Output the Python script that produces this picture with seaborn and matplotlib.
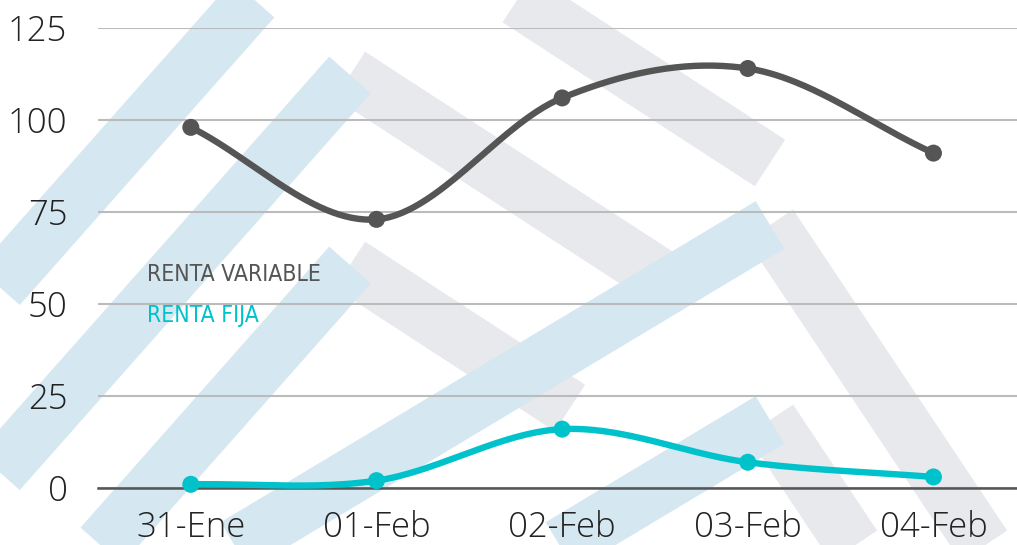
import numpy as np
import pandas as pd
import seaborn as sns
import matplotlib.pyplot as plt
from matplotlib import font_manager

# data
dates = ['31-Ene', '01-Feb', '02-Feb', '03-Feb', '04-Feb']
renta_variable = [98, 73, 106, 114, 91]
renta_fija = [1, 2, 16, 7, 3]

dark = '#555555'
cyan = '#00C2CB'

sns.set_theme(style='white')
plt.rcParams['font.family'] = ['Open Sans', 'DejaVu Sans']

fig = plt.figure(figsize=(10.17, 5.45), dpi=100)

# faint logo watermark in the background (decoration only)
bg = fig.add_axes([0, 0, 1, 1], zorder=0)
bg.set_xlim(0, 1017)
bg.set_ylim(545, 0)
bg.axis('off')
blue_wm = '#D5E7F1'
gray_wm = '#E7E9ED'


def chevron(ax0, ay0, left_dir, left_len, right_dir, right_len):
    lx = ax0 + left_dir[0] * left_len
    ly = ay0 + left_dir[1] * left_len
    rx = ax0 + right_dir[0] * right_len
    ry = ay0 + right_dir[1] * right_len
    bg.plot([ax0, rx], [ay0, ry], color=gray_wm, lw=40, solid_capstyle='butt', zorder=0)
    bg.plot([lx, ax0], [ly, ay0], color=blue_wm, lw=40, solid_capstyle='butt', zorder=1)


for ay, rlen in [(-110, 420), (75, 330), (265, 220)]:
    chevron(350, ay, (-1, 1.13), 500, (1, 0.65), rlen)
for ay, rlen in [(225, 260), (420, 150)]:
    chevron(770, ay, (-1, 0.6), 700, (1, 1.5), rlen)

ax = fig.add_axes([98 / 1017, 1 - 488 / 545, 1 - 98 / 1017, 460 / 545], zorder=1)
ax.patch.set_alpha(0)


def smooth(y, n=60):
    # cubic hermite (catmull-rom style) through the points, for drawing only
    y = np.asarray(y, float)
    x = np.arange(len(y), dtype=float)
    m = np.gradient(y)
    xs, ys = [], []
    for i in range(len(y) - 1):
        t = np.linspace(0, 1, n)
        h00 = 2 * t**3 - 3 * t**2 + 1
        h10 = t**3 - 2 * t**2 + t
        h01 = -2 * t**3 + 3 * t**2
        h11 = t**3 - t**2
        xs.append(x[i] + t)
        ys.append(h00 * y[i] + h10 * m[i] + h01 * y[i + 1] + h11 * m[i + 1])
    return np.concatenate(xs), np.concatenate(ys)


df = pd.DataFrame({'fecha': dates, 'RENTA VARIABLE': renta_variable, 'RENTA FIJA': renta_fija})

for col, c in [('RENTA VARIABLE', dark), ('RENTA FIJA', cyan)]:
    sx, sy = smooth(df[col])
    sns.lineplot(x=sx, y=sy, ax=ax, color=c, lw=4.6, sort=False, clip_on=False, zorder=3)
    sns.scatterplot(x=np.arange(len(dates)), y=df[col], ax=ax, color=c, s=150,
                    edgecolor='none', clip_on=False, zorder=4)

ax.set_xlim(-0.5, 4.45)
ax.set_ylim(0, 125)
ax.set_yticks([0, 25, 50, 75, 100, 125])
ax.set_xticks(range(len(dates)))
ax.set_xticklabels(dates)
ax.grid(axis='y', color='#BBBBBB', lw=1.5)
ax.grid(axis='x', visible=False)
ax.set_axisbelow(True)
for s in ['top', 'right', 'left']:
    ax.spines[s].set_visible(False)
ax.spines['bottom'].set_color('#555555')
ax.spines['bottom'].set_linewidth(1.8)
ax.tick_params(axis='y', length=0, pad=22, labelsize=25, labelcolor='#222222')
ax.tick_params(axis='x', length=0, pad=16, labelsize=25, labelcolor='#222222')
for lab in ax.get_xticklabels() + ax.get_yticklabels():
    lab.set_fontweight('light')
ax.set_xlabel('')
ax.set_ylabel('')

# condensed face for the legend if one is installed
narrow = None
for f in font_manager.fontManager.ttflist:
    if 'Narrow' in f.name or 'Condensed' in f.name or f.stretch in ('condensed', 'semi-condensed'):
        narrow = f.name
        break
leg_font = [narrow, 'DejaVu Sans'] if narrow else ['Roboto', 'DejaVu Sans']
ax.text(0.053, 0.465, 'RENTA VARIABLE', transform=ax.transAxes, color=dark,
        fontsize=16.5, family=leg_font, va='center', stretch='condensed')
ax.text(0.053, 0.376, 'RENTA FIJA', transform=ax.transAxes, color=cyan,
        fontsize=16.5, family=leg_font, va='center', stretch='condensed')

fig.savefig('out.png', dpi=100)
